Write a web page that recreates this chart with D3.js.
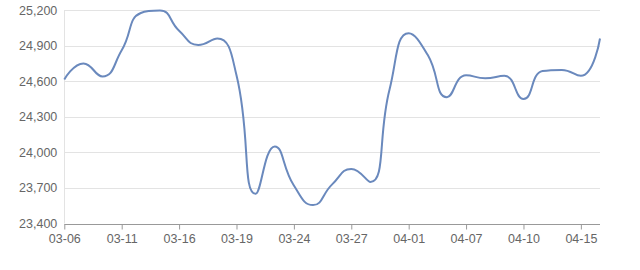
<!DOCTYPE html>
<html>
<head>
<meta charset="utf-8">
<script src="https://cdn.jsdelivr.net/npm/d3@7"></script>
<style>
  html, body { margin: 0; padding: 0; background: #fff; }
  #chart { width: 640px; height: 270px; }
  text { font-family: "Liberation Sans", Arial, sans-serif; }
</style>
</head>
<body>
<div id="chart"></div>
<script>
var dates = ['03-06', '03-07', '03-09', '03-11', '03-12', '03-13', '03-16', '03-17', '03-18', '03-19',
             '03-20', '03-23', '03-24', '03-25', '03-26', '03-27', '03-30', '03-31', '04-01', '04-02',
             '04-03', '04-07', '04-08', '04-09', '04-10', '04-13', '04-14', '04-15', '04-16'];
var prices = [24615, 24750, 24640, 24860, 25175, 25195, 25025, 24905, 24960, 24650,
              23650, 24050, 23720, 23555, 23730, 23860, 23750, 24530, 25005, 24820,
              24465, 24650, 24625, 24645, 24450, 24685, 24695, 24645, 24960];
var yTicks = [23400, 23700, 24000, 24300, 24600, 24900, 25200];
var xLabels = ['03-06', '03-11', '03-16', '03-19', '03-24', '03-27', '04-01', '04-07', '04-10', '04-15'];

(function() {

  var width = 640;
  var height = 270;
  var left = 64.3, right = 600, top = 10, bottom = 223.5;

  // echarts-like smooth curve (smooth = 0.5, control points clamped)
  function smoothCurve(context) {
    var xs, ys;
    return {
      areaStart: function() {},
      areaEnd: function() {},
      lineStart: function() { xs = []; ys = []; },
      point: function(x, y) { xs.push(+x); ys.push(+y); },
      lineEnd: function() {
        var n = xs.length, s = 0.5;
        if (!n) return;
        context.moveTo(xs[0], ys[0]);
        var cpx0 = xs[0], cpy0 = ys[0];
        for (var i = 1; i < n; i++) {
          var x = xs[i], y = ys[i], px = xs[i - 1], py = ys[i - 1];
          if (i === n - 1) {
            context.bezierCurveTo(cpx0, cpy0, x, y, x, y);
            break;
          }
          var nx = xs[i + 1], ny = ys[i + 1];
          var vx = nx - px, vy = ny - py;
          var lp = Math.hypot(x - px, y - py), ln = Math.hypot(nx - x, ny - y);
          var r = ln / (ln + lp);
          var ncx = x + vx * s * r, ncy = y + vy * s * r;
          ncx = Math.max(Math.min(ncx, Math.max(nx, x)), Math.min(nx, x));
          ncy = Math.max(Math.min(ncy, Math.max(ny, y)), Math.min(ny, y));
          vx = ncx - x; vy = ncy - y;
          var cpx1 = x - vx * lp / ln, cpy1 = y - vy * lp / ln;
          cpx1 = Math.max(Math.min(cpx1, Math.max(px, x)), Math.min(px, x));
          cpy1 = Math.max(Math.min(cpy1, Math.max(py, y)), Math.min(py, y));
          vx = x - cpx1; vy = y - cpy1;
          ncx = x + vx * ln / lp; ncy = y + vy * ln / lp;
          context.bezierCurveTo(cpx0, cpy0, cpx1, cpy1, x, y);
          cpx0 = ncx; cpy0 = ncy;
        }
      }
    };
  }

  var xScale = d3.scalePoint()
    .domain(dates)
    .range([left, right]);

  var yScale = d3.scaleLinear()
    .domain([23400, 25200])
    .range([bottom, top]);

  var svg = d3.select('#chart')
    .append('svg')
    .attr('width', width)
    .attr('height', height);

  // grid lines
  svg.append('g')
    .selectAll('line')
    .data(yTicks.slice(1))
    .enter()
    .append('line')
    .attr('x1', left)
    .attr('x2', right)
    .attr('y1', function(d) { return Math.round(yScale(d)) + 0.5; })
    .attr('y2', function(d) { return Math.round(yScale(d)) + 0.5; })
    .attr('stroke', '#e3e3e3')
    .attr('stroke-width', 1);

  // left light axis line
  svg.append('line')
    .attr('x1', Math.round(left) + 0.5)
    .attr('x2', Math.round(left) + 0.5)
    .attr('y1', top)
    .attr('y2', bottom)
    .attr('stroke', '#e3e3e3');

  // y labels
  var yAxis = d3.axisLeft(yScale)
    .tickValues(yTicks)
    .tickSize(0)
    .tickPadding(7)
    .tickFormat(d3.format(','));

  svg.append('g')
    .attr('transform', 'translate(' + left + ',0)')
    .call(yAxis)
    .call(function(g) { g.select('.domain').remove(); })
    .selectAll('.tick>text')
    .style('font-size', '12.5px')
    .attr('fill', '#666');

  // x axis
  var xAxis = d3.axisBottom(xScale)
    .tickValues(xLabels)
    .tickSize(5)
    .tickPadding(5)
    .tickSizeOuter(0);

  var xg = svg.append('g')
    .attr('transform', 'translate(0,' + (Math.round(bottom) + 0.5) + ')')
    .call(xAxis);
  xg.select('.domain').attr('stroke', '#999').attr('d', 'M' + left + ',0H' + right);
  xg.selectAll('.tick line').attr('stroke', '#999');
  xg.selectAll('.tick>text')
    .style('font-size', '12.5px')
    .attr('fill', '#666');

  // price line
  var line = d3.line()
    .x(function(d, i) { return xScale(dates[i]); })
    .y(function(d) { return yScale(d); })
    .curve(smoothCurve);

  svg.append('path')
    .datum(prices)
    .attr('d', line)
    .attr('fill', 'none')
    .attr('stroke', '#6a89bd')
    .attr('stroke-width', 2);

})();
</script>
</body>
</html>
